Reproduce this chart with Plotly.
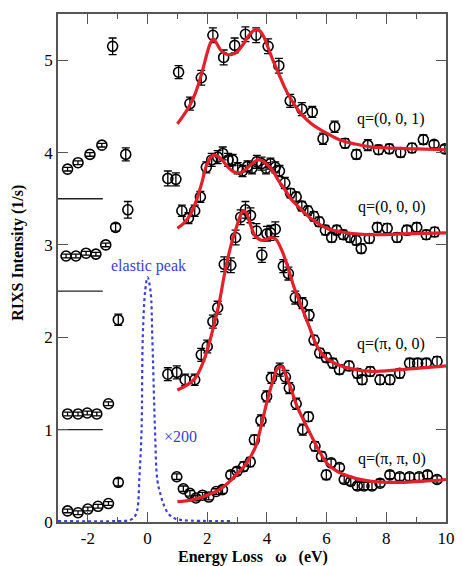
import plotly.graph_objects as go

# ---------------- data ----------------
# q=(0,0,1)
d_x = [-2.68, -2.33, -1.93, -1.53, -1.17, -0.73,
       1.04, 1.42, 1.80, 2.19, 2.55, 2.92, 3.28, 3.64, 4.04, 4.40, 4.78, 5.17, 5.52, 5.88,
       6.27, 6.62, 7.00, 7.38, 7.74, 8.10, 8.48, 8.86, 9.24, 9.60, 9.96]
d_y = [3.82, 3.89, 3.98, 4.08, 5.15, 3.98,
       4.87, 4.53, 4.81, 5.27, 5.03, 5.16, 5.28, 5.27, 5.15, 4.94, 4.56, 4.47, 4.44, 4.15,
       4.28, 4.10, 3.98, 4.08, 4.03, 4.04, 4.00, 4.05, 4.14, 4.09, 4.04]
d_err = [0.02, 0.02, 0.02, 0.02, 0.09, 0.07,
         0.07, 0.07, 0.08, 0.08, 0.08, 0.08, 0.08, 0.08, 0.08, 0.08, 0.07, 0.07, 0.06, 0.06,
         0.06, 0.05, 0.05, 0.06, 0.05, 0.05, 0.05, 0.05, 0.05, 0.04, 0.04]

# q=(0,0,0)
c_x = [-2.73, -2.40, -2.06, -1.73, -1.40, -1.07, -0.66,
       0.68, 0.95, 1.15, 1.37, 1.58, 1.77, 1.97, 2.15, 2.35, 2.52, 2.70, 2.85, 3.02, 3.18,
       3.35, 3.50, 3.66, 3.82, 3.97, 4.12, 4.28, 4.42, 4.60, 4.79, 4.98, 5.17, 5.37, 5.57,
       5.75, 5.96, 6.17, 6.34, 6.56, 6.78, 6.99, 7.16, 7.43, 7.70, 8.03, 8.36, 8.69, 9.02,
       9.34, 9.62]
c_y = [2.88, 2.88, 2.91, 2.90, 3.00, 3.19, 3.38,
       3.72, 3.71, 3.37, 3.29, 3.37, 3.52, 3.84, 3.92, 3.95, 3.99, 3.92, 3.92, 3.83, 3.80,
       3.85, 3.83, 3.90, 3.88, 3.83, 3.88, 3.84, 3.80, 3.67, 3.56, 3.52, 3.42, 3.37, 3.31,
       3.25, 3.16, 3.08, 3.16, 3.11, 3.08, 3.05, 2.96, 3.07, 3.19, 3.18, 3.08, 3.16, 3.19,
       3.11, 3.14]
c_err = [0.02, 0.02, 0.02, 0.02, 0.02, 0.04, 0.09,
         0.08, 0.07, 0.06, 0.06, 0.06, 0.06, 0.06, 0.07, 0.07, 0.07, 0.07, 0.06, 0.06, 0.06,
         0.06, 0.06, 0.07, 0.07, 0.06, 0.06, 0.06, 0.06, 0.06, 0.05, 0.05, 0.05, 0.05, 0.05,
         0.05, 0.05, 0.05, 0.05, 0.05, 0.05, 0.05, 0.05, 0.05, 0.05, 0.05, 0.05, 0.05, 0.05,
         0.05, 0.05]

# q=(pi,0,0)
b_x = [-2.68, -2.33, -2.02, -1.70, -1.31, -0.98,
       0.68, 0.98, 1.26, 1.58, 1.80, 2.00, 2.19, 2.35, 2.57, 2.79, 2.95, 3.12, 3.28, 3.45,
       3.65, 3.83, 4.00, 4.12, 4.28, 4.55, 4.72, 4.95, 5.19, 5.41, 5.58, 5.77, 5.99, 6.21,
       6.43, 6.75, 7.03, 7.19, 7.46, 7.79, 8.12, 8.45, 8.78, 9.05, 9.34, 9.70]
b_y = [1.17, 1.17, 1.18, 1.17, 1.28, 2.19,
       1.60, 1.62, 1.54, 1.54, 1.81, 1.90, 2.17, 2.32, 2.79, 2.78, 3.08, 3.30, 3.38, 3.32,
       3.15, 2.89, 3.12, 3.13, 3.17, 2.77, 2.69, 2.43, 2.37, 2.24, 1.97, 1.83, 1.78, 1.72,
       1.65, 1.69, 1.61, 1.54, 1.63, 1.54, 1.54, 1.61, 1.72, 1.72, 1.72, 1.74]
b_err = [0.02, 0.02, 0.02, 0.02, 0.02, 0.06,
         0.07, 0.07, 0.06, 0.06, 0.07, 0.07, 0.07, 0.07, 0.08, 0.08, 0.08, 0.08, 0.09, 0.08,
         0.08, 0.08, 0.08, 0.08, 0.08, 0.07, 0.07, 0.07, 0.06, 0.06, 0.05, 0.05, 0.05, 0.05,
         0.05, 0.05, 0.05, 0.05, 0.05, 0.05, 0.05, 0.05, 0.05, 0.05, 0.05, 0.05]

# q=(pi,pi,0)
a_x = [-2.68, -2.33, -2.00, -1.66, -1.31, -0.98,
       0.98, 1.20, 1.42, 1.62, 1.84, 2.05, 2.30, 2.51, 2.79, 3.00, 3.22, 3.44, 3.58, 3.80,
       3.99, 4.15, 4.43, 4.62, 4.75, 4.98, 5.20, 5.39, 5.61, 5.83, 5.99, 6.15, 6.43, 6.59,
       6.81, 7.03, 7.25, 7.52, 7.79, 8.12, 8.45, 8.78, 9.10, 9.38, 9.70]
a_y = [0.12, 0.10, 0.14, 0.17, 0.20, 0.43,
       0.49, 0.36, 0.31, 0.26, 0.29, 0.27, 0.33, 0.35, 0.51, 0.55, 0.60, 0.65, 0.89, 1.10,
       1.36, 1.56, 1.65, 1.57, 1.45, 1.28, 1.00, 1.14, 0.82, 0.71, 0.51, 0.64, 0.59, 0.46,
       0.44, 0.39, 0.39, 0.39, 0.42, 0.51, 0.49, 0.49, 0.49, 0.51, 0.46]
a_err = [0.02, 0.02, 0.02, 0.02, 0.02, 0.04,
         0.03, 0.03, 0.03, 0.03, 0.03, 0.03, 0.03, 0.04, 0.04, 0.04, 0.05, 0.05, 0.05, 0.06,
         0.06, 0.06, 0.07, 0.07, 0.06, 0.06, 0.06, 0.05, 0.05, 0.05, 0.05, 0.04, 0.04, 0.04,
         0.04, 0.04, 0.04, 0.04, 0.04, 0.04, 0.04, 0.04, 0.04, 0.04, 0.04]

# fitted curves (red)
fd_x = [1.0, 1.2, 1.4, 1.6, 1.8, 2.0, 2.1, 2.2, 2.3, 2.45, 2.6, 2.8, 3.0, 3.2, 3.4, 3.6,
        3.75, 3.9, 4.0, 4.2, 4.4, 4.6, 4.8, 5.0, 5.2, 5.5, 6.0, 6.5, 7.0, 7.5, 8.0, 9.0, 10.0]
fd_y = [4.31, 4.40, 4.50, 4.64, 4.84, 5.08, 5.18, 5.23, 5.19, 5.11, 5.07, 5.06, 5.09, 5.17,
        5.27, 5.33, 5.32, 5.25, 5.17, 5.00, 4.85, 4.70, 4.58, 4.48, 4.40, 4.31, 4.21, 4.13,
        4.09, 4.06, 4.05, 4.04, 4.03]
fc_x = [1.0, 1.2, 1.4, 1.6, 1.8, 2.0, 2.2, 2.35, 2.5, 2.7, 2.9, 3.1, 3.3, 3.5, 3.7, 3.85,
        4.0, 4.2, 4.4, 4.6, 4.8, 5.0, 5.25, 5.5, 6.0, 6.5, 7.0, 7.6, 8.5, 10.0]
fc_y = [3.18, 3.23, 3.31, 3.45, 3.65, 3.88, 3.97, 3.96, 3.92, 3.84, 3.79, 3.78, 3.82, 3.88,
        3.92, 3.91, 3.87, 3.80, 3.69, 3.60, 3.50, 3.43, 3.35, 3.28, 3.18, 3.14, 3.12, 3.11,
        3.12, 3.13]
fb_x = [1.0, 1.3, 1.6, 1.8, 2.0, 2.2, 2.4, 2.6, 2.8, 2.95, 3.1, 3.2, 3.3, 3.45, 3.6, 3.8,
        4.0, 4.15, 4.3, 4.5, 4.7, 4.9, 5.1, 5.4, 5.7, 6.0, 6.4, 6.8, 7.5, 8.5, 10.0]
fb_y = [1.43, 1.48, 1.56, 1.68, 1.86, 2.10, 2.37, 2.72, 3.00, 3.16, 3.31, 3.37, 3.35, 3.22,
        3.10, 3.05, 3.06, 3.08, 3.06, 2.94, 2.76, 2.55, 2.38, 2.13, 1.89, 1.77, 1.70, 1.66,
        1.63, 1.65, 1.69]
fa_x = [1.0, 1.5, 2.0, 2.5, 3.0, 3.3, 3.6, 3.8, 4.0, 4.2, 4.35, 4.5, 4.65, 4.8, 5.0, 5.2,
        5.4, 5.6, 5.8, 6.05, 6.4, 6.7, 7.0, 7.5, 8.0, 8.6, 9.2, 10.0]
fa_y = [0.22, 0.24, 0.29, 0.37, 0.52, 0.63, 0.80, 1.03, 1.30, 1.53, 1.66, 1.68, 1.58, 1.45,
        1.26, 1.12, 0.99, 0.86, 0.74, 0.62, 0.54, 0.50, 0.47, 0.44, 0.43, 0.43, 0.44, 0.46]

# elastic peak (x200), blue dotted
el_x = [-3.0, -1.0, -0.6, -0.45, -0.35, -0.27, -0.2, -0.16, -0.08, 0.0, 0.1, 0.16, 0.25,
        0.33, 0.45, 0.55, 0.7, 0.9, 1.2, 2.85]
el_y = [0.01, 0.01, 0.02, 0.05, 0.12, 0.5, 1.0, 2.0, 2.5, 2.65, 2.5, 2.0, 1.0,
        0.45, 0.28, 0.18, 0.09, 0.04, 0.02, 0.01]

# short baseline markers at left
base_levels = [3.5, 2.5, 1.0]
base_x = [-3.0, -1.5]

labels = ["q=(0, 0, 1)", "q=(0, 0, 0)", "q=(\u03c0, 0, 0)", "q=(\u03c0, \u03c0, 0)"]
label_x = [8.15, 8.2, 8.15, 8.2]
label_y = [4.36, 3.41, 1.93, 0.68]

x_ticks = [-2, 0, 2, 4, 6, 8, 10]
x_tick_text = ["-2", "0", "2", "4", "6", "8", "10"]
y_ticks = [0, 1, 2, 3, 4, 5]

# ---------------- figure ----------------
SERIF = "Liberation Serif, Times New Roman, serif"
RED = "#e3212b"
BLUE = "#3b3fd9"
AX = "#555555"
NB = "\u00a0"

fig = go.Figure()

for lv in base_levels:
    fig.add_trace(go.Scatter(x=base_x, y=[lv, lv], mode="lines",
                             line=dict(color="#222222", width=1.3),
                             showlegend=False, hoverinfo="skip"))

fig.add_trace(go.Scatter(x=el_x, y=el_y, mode="lines", line_shape="spline",
                         line=dict(color=BLUE, width=2.2, dash="dot"),
                         showlegend=False))

for xs, ys, es in [(d_x, d_y, d_err), (c_x, c_y, c_err), (b_x, b_y, b_err), (a_x, a_y, a_err)]:
    fig.add_trace(go.Scatter(
        x=xs, y=ys, mode="markers",
        marker=dict(symbol="circle-open", size=10, color="black", line=dict(width=1.6)),
        error_y=dict(type="data", array=es, visible=True, color="black",
                     thickness=1.3, width=4),
        showlegend=False))

for xs, ys in [(fd_x, fd_y), (fc_x, fc_y), (fb_x, fb_y), (fa_x, fa_y)]:
    fig.add_trace(go.Scatter(x=xs, y=ys, mode="lines", line_shape="spline",
                             line=dict(color=RED, width=3.2, smoothing=1.0),
                             showlegend=False))

for t, lx, ly in zip(labels, label_x, label_y):
    fig.add_annotation(x=lx, y=ly, text=t, showarrow=False,
                       font=dict(family=SERIF, size=16, color="black"))

fig.add_annotation(x=0.02, y=2.77, text="elastic peak", showarrow=False,
                   font=dict(family=SERIF, size=16, color=BLUE))
fig.add_annotation(x=1.12, y=0.93, text="\u00d7200", showarrow=False,
                   font=dict(family=SERIF, size=16, color=BLUE))

# axis titles as annotations (precise placement)
fig.add_annotation(xref="paper", yref="paper", x=0.503, y=-0.068,
                   xanchor="center", yanchor="middle",
                   text="<b>Energy Loss" + NB * 3 + "\u03c9" + NB * 3 + "(eV)</b>",
                   showarrow=False,
                   font=dict(family=SERIF, size=16, color="black"))
fig.add_annotation(xref="paper", yref="paper", x=-0.103, y=0.53,
                   xanchor="center", yanchor="middle",
                   text="<b>RIXS Intensity (1/s)</b>", showarrow=False, textangle=-90,
                   font=dict(family=SERIF, size=16, color="black"))

axis_common = dict(showline=True, linecolor=AX, linewidth=1.5, mirror="ticks",
                   ticks="inside", ticklen=10, tickwidth=1.3, tickcolor=AX,
                   showgrid=False, zeroline=False,
                   tickfont=dict(family=SERIF, size=17, color="black"))

fig.update_xaxes(range=[-3, 10], tickmode="array", tickvals=x_ticks, ticktext=x_tick_text,
                 minor=dict(dtick=1, tick0=0, ticks="inside", ticklen=5,
                            tickwidth=1.3, tickcolor=AX, showgrid=False),
                 **axis_common)
fig.update_yaxes(range=[0, 5.5], tickmode="array", tickvals=y_ticks, **axis_common)

fig.update_layout(width=462, height=566,
                  margin=dict(l=58, r=7, t=14, b=44),
                  paper_bgcolor="white", plot_bgcolor="white",
                  showlegend=False)

fig.write_html("out.html")
